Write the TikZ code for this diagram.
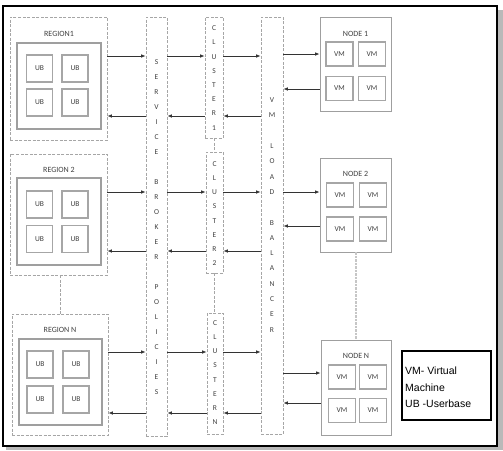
\documentclass[tikz,border=0pt]{standalone}
\usepackage{fontspec}
\setmainfont{Carlito}
\newfontfamily\legendfont{Liberation Sans}
\usetikzlibrary{arrows.meta}

\begin{document}
\begin{tikzpicture}[x=1pt,y=-1pt,
  dashbox/.style={draw=gray!70, dash pattern=on 3pt off 1.5pt, line width=0.8pt, inner sep=0pt},
  regbox/.style={draw=gray!75, line width=1.3pt, inner sep=0pt},
  ubbox/.style={draw=gray!70, line width=1.1pt, inner sep=0pt, minimum width=26pt, minimum height=27pt, font=\fontsize{7.5}{8}\selectfont, text=black!75},
  vmbox/.style={draw=gray!70, line width=1.1pt, inner sep=0pt, minimum width=27pt, minimum height=24pt, font=\fontsize{7.5}{8}\selectfont, text=black!75},
  nodebox/.style={draw=gray!75, line width=0.9pt, inner sep=0pt},
  lbl/.style={font=\fontsize{8}{9}\selectfont, text=black!75, inner sep=0pt},
  vtext/.style={align=center, text=black!75, inner sep=0pt},
  arr/.style={-{Latex[length=4.5pt,width=3.6pt]}, draw=black!80, line width=0.8pt},
  link/.style={draw=gray!70, dash pattern=on 3pt off 1.5pt, line width=0.8pt}]
  \useasboundingbox (0,0) rectangle (503,450);
  % frame with shadow
  \fill[gray!55] (6,10) rectangle (503,450);
  \filldraw[fill=white, draw=black, line width=1.5pt] (3,6) rectangle (497,446);

  % regions
  \node[dashbox, minimum width=97pt, minimum height=123pt] (r1) at (58.5,78.5) {};
  \node[regbox, minimum width=84pt, minimum height=86pt] (r1in) at (59,86) {};
  \node[lbl] (r1lbl) at (59,34) {REGION1};
  \node[ubbox] (ub11) at (39.5,68.5) {UB};
  \node[ubbox] (ub12) at (75,68.5) {UB};
  \node[ubbox] (ub13) at (39.5,102.5) {UB};
  \node[ubbox] (ub14) at (75,102.5) {UB};

  \node[dashbox, minimum width=97pt, minimum height=121pt] (r2) at (58.5,214.5) {};
  \node[regbox, minimum width=84pt, minimum height=87pt] (r2in) at (59,221.5) {};
  \node[lbl] (r2lbl) at (59,170) {REGION 2};
  \node[ubbox] (ub21) at (39.5,204.5) {UB};
  \node[ubbox] (ub22) at (75,204.5) {UB};
  \node[ubbox] (ub23) at (39.5,239) {UB};
  \node[ubbox] (ub24) at (75,239) {UB};

  \node[dashbox, minimum width=96pt, minimum height=121pt] (rn) at (60,374.5) {};
  \node[regbox, minimum width=83pt, minimum height=86pt] (rnin) at (60.5,382) {};
  \node[lbl] (rnlbl) at (60,330) {REGION N};
  \node[ubbox] (ubn1) at (40,364.5) {UB};
  \node[ubbox] (ubn2) at (76,364.5) {UB};
  \node[ubbox] (ubn3) at (40,399.5) {UB};
  \node[ubbox] (ubn4) at (76,399.5) {UB};

  % service broker, clusters, load balancer
  \node[dashbox, minimum width=21pt, minimum height=419pt] (sb) at (156.5,226.5) {};
  \node[vtext, font=\fontsize{7.5}{15}\selectfont] (sbtxt) at (156.5,227)
    {S\\E\\R\\V\\I\\C\\E\\[15pt]B\\R\\O\\K\\E\\R\\[15pt]P\\O\\L\\I\\C\\I\\E\\S};
  \node[dashbox, minimum width=18pt, minimum height=121pt] (c1) at (214,77.5) {};
  \node[vtext, font=\fontsize{7.5}{14.2}\selectfont] (c1txt) at (214,78) {C\\L\\U\\S\\T\\E\\R\\1};
  \node[dashbox, minimum width=17pt, minimum height=121pt] (c2) at (214.5,212.5) {};
  \node[vtext, font=\fontsize{7.5}{14.2}\selectfont] (c2txt) at (214.5,213.5) {C\\L\\U\\S\\T\\E\\R\\2};
  \node[dashbox, minimum width=16pt, minimum height=121pt] (cn) at (215,373.5) {};
  \node[vtext, font=\fontsize{7.5}{14.2}\selectfont] (cntxt) at (215,372.5) {C\\L\\U\\S\\T\\E\\R\\N};
  \node[dashbox, minimum width=22pt, minimum height=417pt] (lb) at (272,225.5) {};
  \node[vtext, font=\fontsize{7.5}{15.3}\selectfont] (lbtxt) at (272,215)
    {V\\M\\[15.3pt]L\\O\\A\\D\\[15.3pt]B\\A\\L\\A\\N\\C\\E\\R};

  % nodes
  \node[nodebox, minimum width=71pt, minimum height=94pt] (n1) at (355.5,64) {};
  \node[lbl] (n1lbl) at (355.5,34) {NODE 1};
  \node[vmbox] (vm11) at (339.5,54) {VM};
  \node[vmbox] (vm12) at (372,54) {VM};
  \node[vmbox] (vm13) at (339.5,88.5) {VM};
  \node[vmbox] (vm14) at (372,88.5) {VM};

  \node[nodebox, minimum width=71pt, minimum height=94pt] (n2) at (355.5,205) {};
  \node[lbl] (n2lbl) at (355.5,174) {NODE 2};
  \node[vmbox] (vm21) at (340,195) {VM};
  \node[vmbox] (vm22) at (373,195) {VM};
  \node[vmbox] (vm23) at (340,229) {VM};
  \node[vmbox] (vm24) at (373,229) {VM};

  \node[nodebox, minimum width=70pt, minimum height=95pt] (nn) at (356,387.5) {};
  \node[lbl] (nnlbl) at (356,356) {NODE N};
  \node[vmbox] (vmn1) at (342,377) {VM};
  \node[vmbox] (vmn2) at (373,377) {VM};
  \node[vmbox] (vmn3) at (342,410.5) {VM};
  \node[vmbox] (vmn4) at (373,410.5) {VM};

  % legend
  \node[draw=black, line width=1.4pt, minimum width=89pt, minimum height=69pt, inner sep=0pt] (legend) at (446.5,385.5) {};
  \node[anchor=west, align=left, inner sep=0pt, font=\legendfont\fontsize{10.5}{16.5}\selectfont] (legtxt) at (405,387.5)
    {VM- Virtual\\Machine\\UB -Userbase};

  % dashed links between stacked boxes
  \draw[link] (r2.south -| 60,0) -- (rn.north -| 60,0);
  \draw[link] (c1.south) -- (c2.north -| c1.south);
  \draw[link] (c2.south) -- (cn.north -| c2.south);
  \draw[draw=gray!45, line width=2pt, dash pattern=on 2.5pt off 1pt] (n2.south) -- (nn.north -| n2.south);

  % row 1
  \draw[arr] (r1.east |- 0,56) -- (sb.west |- 0,56);
  \draw[arr] (sb.east |- 0,56) -- (c1.west |- 0,56);
  \draw[arr] (c1.east |- 0,56) -- (lb.west |- 0,56);
  \draw[arr] (lb.west |- 0,116) -- (c1.east |- 0,116);
  \draw[arr] (c1.west |- 0,116) -- (sb.east |- 0,116);
  \draw[arr] (sb.west |- 0,116) -- (r1.east |- 0,116);
  \draw[arr] (lb.east |- 0,54) -- (n1.west |- 0,54);
  \draw[arr] (n1.west |- 0,89) -- (lb.east |- 0,89);
  % row 2
  \draw[arr] (r2.east |- 0,192) -- (sb.west |- 0,192);
  \draw[arr] (sb.east |- 0,192) -- (c2.west |- 0,192);
  \draw[arr] (c2.east |- 0,192) -- (lb.west |- 0,192);
  \draw[arr] (lb.west |- 0,251) -- (c2.east |- 0,251);
  \draw[arr] (c2.west |- 0,251) -- (sb.east |- 0,251);
  \draw[arr] (sb.west |- 0,251) -- (r2.east |- 0,251);
  \draw[arr] (lb.east |- 0,192) -- (n2.west |- 0,192);
  \draw[arr] (n2.west |- 0,226) -- (lb.east |- 0,226);
  % row 3
  \draw[arr] (rn.east |- 0,352) -- (sb.west |- 0,352);
  \draw[arr] (sb.east |- 0,352) -- (cn.west |- 0,352);
  \draw[arr] (cn.east |- 0,352) -- (lb.west |- 0,352);
  \draw[arr] (lb.west |- 0,413) -- (cn.east |- 0,413);
  \draw[arr] (cn.west |- 0,413) -- (sb.east |- 0,413);
  \draw[arr] (sb.west |- 0,413) -- (rn.east |- 0,413);
  \draw[arr] (lb.east |- 0,373) -- (nn.west |- 0,373);
  \draw[arr] (nn.west |- 0,403) -- (lb.east |- 0,403);
\end{tikzpicture}
\end{document}
